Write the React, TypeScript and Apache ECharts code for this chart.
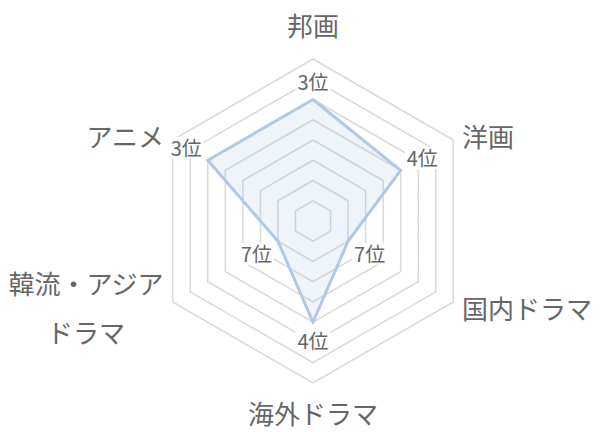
import React, { useEffect, useRef } from "react";
import * as echarts from "echarts";

// categories clockwise from the top, as they appear on the chart
const categories = ["邦画", "洋画", "国内ドラマ", "海外ドラマ", "韓流・アジア\nドラマ", "アニメ"];
const ranks = [3, 4, 7, 4, 7, 3];
const levels = 8; // number of rings, rank 1 would sit on the outer one

const CENTER = [313, 221];
const FONT = "'Noto Sans CJK JP', 'Noto Sans', sans-serif";
const TEXT = "#666";
const LINE = "#b1cae8";

export default function App() {
  const chartRef = useRef<HTMLDivElement>(null);

  useEffect(() => {
    if (!chartRef.current) return;
    document.body.style.margin = "0";

    // echarts lays radar indicators out counter-clockwise, so reverse the tail
    const order = [0, ...categories.map((_, i) => i).slice(1).reverse()];
    const values = order.map((i) => levels + 1 - ranks[i]);

    const chart = echarts.init(chartRef.current, undefined, { renderer: "svg" });

    const option: any = {
      animation: false,
      backgroundColor: "#fff",
      radar: {
        center: CENTER,
        radius: 162,
        startAngle: 90,
        splitNumber: levels,
        shape: "polygon",
        nameGap: 10,
        indicator: order.map((i) => ({ name: categories[i], min: 0, max: levels })),
        axisName: {
          color: TEXT,
          fontSize: 26,
          fontFamily: FONT,
          formatter: (name: string) => {
            if (name === categories[0]) return `{up|${name}}`;
            if (name === categories[3]) return `{down|${name}}`;
            if (name.includes("\n")) return name.split("\n").map((s) => `{multi|${s}}`).join("\n");
            return `{side|${name}}`;
          },
          rich: {
            up: { color: TEXT, fontSize: 26, fontFamily: FONT, lineHeight: 50 },
            down: { color: TEXT, fontSize: 26, fontFamily: FONT, lineHeight: 38 },
            side: { color: TEXT, fontSize: 26, fontFamily: FONT, lineHeight: 30 },
            multi: { color: TEXT, fontSize: 26, fontFamily: FONT, lineHeight: 49, align: "center" },
          },
        },
        axisLine: { show: false },
        axisTick: { show: false },
        axisLabel: { show: false },
        splitArea: { show: false },
        splitLine: { lineStyle: { color: "#d9d9d9", width: 1.5 } },
      },
      series: [
        {
          type: "radar",
          symbol: "circle",
          symbolSize: 3,
          itemStyle: { color: LINE },
          lineStyle: { color: LINE, width: 3 },
          areaStyle: { color: "rgba(163,190,228,0.25)" },
          label: {
            show: true,
            formatter: (p: any) => `${levels + 1 - p.value}位`,
            color: TEXT,
            fontSize: 20,
            fontFamily: FONT,
            backgroundColor: "#fff",
            padding: [1, 2],
          },
          // push each rank label outwards along its own axis
          labelLayout: (p: any) => {
            const sx = p.rect.x + p.rect.width / 2;
            const sy = p.rect.y + p.rect.height / 2;
            const dx = sx - CENTER[0];
            const dy = sy - CENTER[1];
            const len = Math.hypot(dx, dy) || 1;
            const ux = dx / len;
            const uy = dy / len;
            const dist = 18 + 8 * Math.abs(ux);
            return { x: sx + ux * dist, y: sy + uy * dist, align: "center", verticalAlign: "middle" };
          },
          data: [{ value: values, name: "順位" }],
        },
      ],
    };

    chart.setOption(option);

    return () => {
      chart.dispose();
    };
  }, []);

  return <div ref={chartRef} style={{ width: 600, height: 432 }} />;
}
